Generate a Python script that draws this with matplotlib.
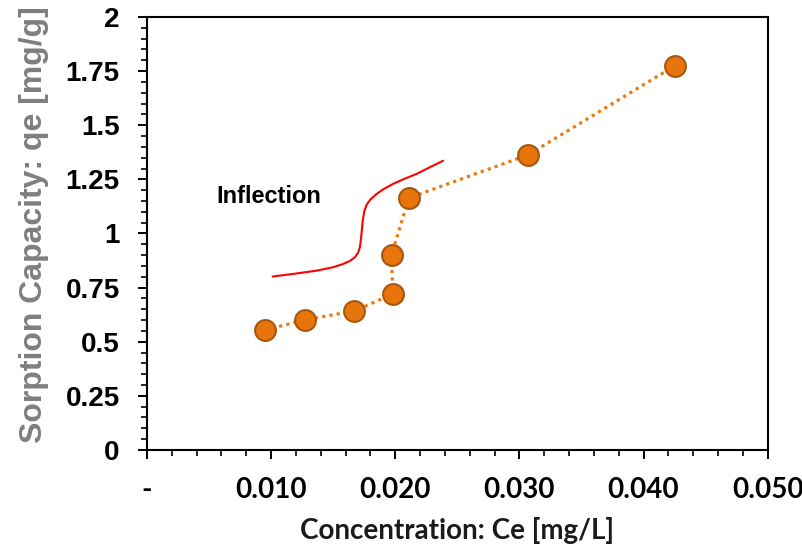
import matplotlib
matplotlib.use("Agg")
import matplotlib.pyplot as plt
from matplotlib.ticker import MultipleLocator, FuncFormatter

# Data
ce = [0.0095, 0.0127, 0.0167, 0.0198, 0.0197, 0.0211, 0.0307, 0.0425]
qe = [0.554, 0.600, 0.642, 0.720, 0.900, 1.164, 1.363, 1.774]

# Hand-drawn red "inflection" curve
curve_x = [0.01012, 0.01178, 0.01366, 0.01500, 0.01581, 0.01635, 0.01675,
           0.01701, 0.01715, 0.01723, 0.01731, 0.01739, 0.01750, 0.01769,
           0.01801, 0.01849, 0.01903, 0.01983, 0.02064, 0.02172, 0.02279,
           0.02386]
curve_y = [0.801, 0.813, 0.828, 0.844, 0.859, 0.873, 0.890,
           0.911, 0.936, 0.970, 1.016, 1.062, 1.101, 1.132,
           1.158, 1.182, 1.204, 1.229, 1.250, 1.275, 1.306,
           1.336]

xticks = [0, 0.01, 0.02, 0.03, 0.04, 0.05]
yticks = [0, 0.25, 0.5, 0.75, 1, 1.25, 1.5, 1.75, 2]

fig = plt.figure(figsize=(8.03, 5.48), dpi=100)
ax = fig.add_axes([0.183, 0.179, 0.773, 0.790])

ax.plot(ce, qe, linestyle=(0, (1, 1.3)), color="#E97B10", linewidth=2.3,
        marker="o", markersize=15, markerfacecolor="#E8740C",
        markeredgecolor="#A8570F", markeredgewidth=1.5, zorder=3)
ax.plot(curve_x, curve_y, color="#FF0000", linewidth=1.5, zorder=2,
        solid_joinstyle="round", solid_capstyle="round")

ax.text(0.0056, 1.169, "Inflection", fontsize=17, fontweight="bold",
        family=["Liberation Sans", "DejaVu Sans"],
        va="center", ha="left", color="black")

ax.set_xlim(0, 0.05)
ax.set_ylim(0, 2)
ax.set_xticks(xticks)
ax.set_yticks(yticks)
ax.xaxis.set_minor_locator(MultipleLocator(0.002))
ax.yaxis.set_minor_locator(MultipleLocator(0.05))
ax.xaxis.set_major_formatter(FuncFormatter(lambda v, p: "-" if abs(v) < 1e-12 else f"{v:.3f}"))
ax.yaxis.set_major_formatter(FuncFormatter(lambda v, p: f"{v:g}"))

for s in ax.spines.values():
    s.set_linewidth(1.5)
    s.set_color("black")

ax.tick_params(axis="both", which="major", direction="out", length=6.5, width=1.4)
ax.tick_params(axis="both", which="minor", direction="out", length=4.3, width=1.2)
ax.tick_params(axis="x", pad=13)
ax.tick_params(axis="y", pad=13)

for lab in ax.get_yticklabels():
    lab.set_fontfamily(["Liberation Sans", "DejaVu Sans"])
    lab.set_fontweight("bold")
    lab.set_fontsize(20)
for lab in ax.get_xticklabels():
    lab.set_fontfamily(["Lato", "DejaVu Sans"])
    lab.set_fontweight("bold")
    lab.set_fontsize(20)

ax.set_xlabel("Concentration: Ce [mg/L]", fontsize=20, fontweight="bold",
              family=["Lato", "DejaVu Sans"], color="#1A1A1A", labelpad=10)
ax.set_ylabel("Sorption Capacity: qe [mg/g]", fontsize=23, fontweight="bold",
              family=["Liberation Sans", "DejaVu Sans"], color="#7F7F7F")
ax.yaxis.set_label_coords(-0.158, 0.52)

fig.savefig("out.png", dpi=100)
